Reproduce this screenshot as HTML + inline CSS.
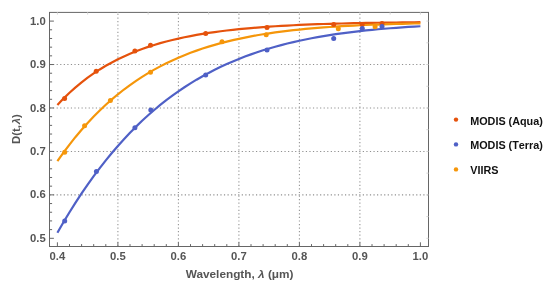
<!DOCTYPE html>
<html><head><meta charset="utf-8"><title>D(t,λ) vs Wavelength</title>
<style>html,body{margin:0;padding:0;background:#fff}svg{display:block}text{font-family:"Liberation Sans",Arial,Helvetica,sans-serif;font-weight:bold}</style></head><body>
<svg width="550" height="286" viewBox="0 0 550 286">
<rect width="550" height="286" fill="#fff"/>
<g stroke="#909090" stroke-width="1.05" stroke-dasharray="1.2 2.36" fill="none">
<path d="M117.90,246.50 V12.40"/>
<path d="M178.40,246.50 V12.40"/>
<path d="M238.90,246.50 V12.40"/>
<path d="M299.40,246.50 V12.40"/>
<path d="M359.90,246.50 V12.40"/>
<path d="M49.50,194.86 H428.50"/>
<path d="M49.50,151.42 H428.50"/>
<path d="M49.50,107.98 H428.50"/>
<path d="M49.50,64.54 H428.50"/>
</g>
<g fill="none" stroke-width="2.2" stroke-linecap="butt" stroke-linejoin="round">
<path stroke="#E5520C" d="M57.40,104.93 L63.45,98.59 L69.50,92.73 L75.55,87.32 L81.60,82.31 L87.65,77.68 L93.70,73.41 L99.75,69.45 L105.80,65.80 L111.85,62.42 L117.90,59.30 L123.95,56.41 L130.00,53.75 L136.05,51.28 L142.10,49.01 L148.15,46.90 L154.20,44.96 L160.25,43.17 L166.30,41.51 L172.35,39.98 L178.40,38.56 L184.45,37.25 L190.50,36.05 L196.55,34.93 L202.60,33.90 L208.65,32.95 L214.70,32.07 L220.75,31.26 L226.80,30.51 L232.85,29.82 L238.90,29.18 L244.95,28.59 L251.00,28.05 L257.05,27.55 L263.10,27.08 L269.15,26.65 L275.20,26.26 L281.25,25.89 L287.30,25.56 L293.35,25.25 L299.40,24.96 L305.45,24.69 L311.50,24.45 L317.55,24.22 L323.60,24.02 L329.65,23.82 L335.70,23.65 L341.75,23.48 L347.80,23.33 L353.85,23.19 L359.90,23.07 L365.95,22.95 L372.00,22.84 L378.05,22.74 L384.10,22.65 L390.15,22.56 L396.20,22.48 L402.25,22.41 L408.30,22.34 L414.35,22.28 L420.40,22.22"/>
<path stroke="#4F60C6" d="M57.40,232.73 L63.45,222.28 L69.50,212.26 L75.55,202.64 L81.60,193.43 L87.65,184.61 L93.70,176.16 L99.75,168.08 L105.80,160.35 L111.85,152.97 L117.90,145.92 L123.95,139.19 L130.00,132.77 L136.05,126.65 L142.10,120.81 L148.15,115.26 L154.20,109.98 L160.25,104.95 L166.30,100.17 L172.35,95.64 L178.40,91.33 L184.45,87.24 L190.50,83.36 L196.55,79.68 L202.60,76.20 L208.65,72.90 L214.70,69.78 L220.75,66.83 L226.80,64.04 L232.85,61.41 L238.90,58.92 L244.95,56.58 L251.00,54.36 L257.05,52.28 L263.10,50.31 L269.15,48.46 L275.20,46.72 L281.25,45.08 L287.30,43.55 L293.35,42.10 L299.40,40.74 L305.45,39.47 L311.50,38.28 L317.55,37.16 L323.60,36.11 L329.65,35.13 L335.70,34.21 L341.75,33.35 L347.80,32.55 L353.85,31.80 L359.90,31.10 L365.95,30.45 L372.00,29.84 L378.05,29.27 L384.10,28.74 L390.15,28.25 L396.20,27.79 L402.25,27.36 L408.30,26.96 L414.35,26.60 L420.40,26.25"/>
<path stroke="#F5960A" d="M57.40,161.15 L63.45,152.62 L69.50,144.56 L75.55,136.93 L81.60,129.72 L87.65,122.92 L93.70,116.50 L99.75,110.44 L105.80,104.73 L111.85,99.35 L117.90,94.28 L123.95,89.51 L130.00,85.03 L136.05,80.81 L142.10,76.85 L148.15,73.13 L154.20,69.64 L160.25,66.36 L166.30,63.29 L172.35,60.42 L178.40,57.72 L184.45,55.20 L190.50,52.84 L196.55,50.64 L202.60,48.58 L208.65,46.65 L214.70,44.86 L220.75,43.18 L226.80,41.62 L232.85,40.17 L238.90,38.81 L244.95,37.55 L251.00,36.38 L257.05,35.29 L263.10,34.28 L269.15,33.34 L275.20,32.46 L281.25,31.65 L287.30,30.90 L293.35,30.20 L299.40,29.56 L305.45,28.96 L311.50,28.41 L317.55,27.90 L323.60,27.43 L329.65,26.99 L335.70,26.59 L341.75,26.22 L347.80,25.88 L353.85,25.56 L359.90,25.27 L365.95,25.00 L372.00,24.76 L378.05,24.53 L384.10,24.32 L390.15,24.13 L396.20,23.96 L402.25,23.79 L408.30,23.65 L414.35,23.51 L420.40,23.39"/>
</g>
<g fill="#E5520C"><circle cx="64.6" cy="98.4" r="2.5"/><circle cx="96.2" cy="71.2" r="2.5"/><circle cx="134.9" cy="51.1" r="2.5"/><circle cx="150.5" cy="45.3" r="2.5"/><circle cx="205.7" cy="33.5" r="2.5"/><circle cx="267.0" cy="27.6" r="2.5"/><circle cx="333.7" cy="24.4" r="2.5"/><circle cx="362.2" cy="24.4" r="2.5"/><circle cx="382.0" cy="23.4" r="2.5"/></g>
<g fill="#4F60C6"><circle cx="64.7" cy="220.9" r="2.5"/><circle cx="96.4" cy="171.4" r="2.5"/><circle cx="134.9" cy="127.7" r="2.5"/><circle cx="150.8" cy="110.1" r="2.5"/><circle cx="205.7" cy="74.9" r="2.5"/><circle cx="267.0" cy="49.9" r="2.5"/><circle cx="333.7" cy="38.4" r="2.5"/><circle cx="362.3" cy="28.4" r="2.5"/><circle cx="382.0" cy="26.4" r="2.5"/></g>
<g fill="#F5960A"><circle cx="64.7" cy="152.2" r="2.5"/><circle cx="84.6" cy="125.7" r="2.5"/><circle cx="110.4" cy="100.4" r="2.5"/><circle cx="150.5" cy="72.2" r="2.5"/><circle cx="222.0" cy="41.7" r="2.5"/><circle cx="266.2" cy="34.8" r="2.5"/><circle cx="338.3" cy="28.7" r="2.5"/><circle cx="375.1" cy="26.7" r="2.5"/></g>
<rect x="49.50" y="12.40" width="379.00" height="234.10" fill="none" stroke="#666" stroke-width="1"/>
<path d="M57.40,246.50 v-4.2 M69.50,246.50 v-2.4 M81.60,246.50 v-2.4 M93.70,246.50 v-2.4 M105.80,246.50 v-2.4 M117.90,246.50 v-4.2 M130.00,246.50 v-2.4 M142.10,246.50 v-2.4 M154.20,246.50 v-2.4 M166.30,246.50 v-2.4 M178.40,246.50 v-4.2 M190.50,246.50 v-2.4 M202.60,246.50 v-2.4 M214.70,246.50 v-2.4 M226.80,246.50 v-2.4 M238.90,246.50 v-4.2 M251.00,246.50 v-2.4 M263.10,246.50 v-2.4 M275.20,246.50 v-2.4 M287.30,246.50 v-2.4 M299.40,246.50 v-4.2 M311.50,246.50 v-2.4 M323.60,246.50 v-2.4 M335.70,246.50 v-2.4 M347.80,246.50 v-2.4 M359.90,246.50 v-4.2 M372.00,246.50 v-2.4 M384.10,246.50 v-2.4 M396.20,246.50 v-2.4 M408.30,246.50 v-2.4 M420.40,246.50 v-4.2 M49.50,238.30 h4.4 M49.50,229.61 h2.6 M49.50,220.92 h2.6 M49.50,212.24 h2.6 M49.50,203.55 h2.6 M49.50,194.86 h4.4 M49.50,186.17 h2.6 M49.50,177.48 h2.6 M49.50,168.80 h2.6 M49.50,160.11 h2.6 M49.50,151.42 h4.4 M49.50,142.73 h2.6 M49.50,134.04 h2.6 M49.50,125.36 h2.6 M49.50,116.67 h2.6 M49.50,107.98 h4.4 M49.50,99.29 h2.6 M49.50,90.60 h2.6 M49.50,81.92 h2.6 M49.50,73.23 h2.6 M49.50,64.54 h4.4 M49.50,55.85 h2.6 M49.50,47.16 h2.6 M49.50,38.48 h2.6 M49.50,29.79 h2.6 M49.50,21.10 h4.4" stroke="#666" stroke-width="1" fill="none"/>
<path d="M57.40,12.40 v2.2 M87.65,12.40 v2.2 M117.90,12.40 v2.2 M148.15,12.40 v2.2 M178.40,12.40 v2.2 M208.65,12.40 v2.2 M238.90,12.40 v2.2 M269.15,12.40 v2.2 M299.40,12.40 v2.2 M329.65,12.40 v2.2 M359.90,12.40 v2.2 M390.15,12.40 v2.2 M420.40,12.40 v2.2 M428.50,238.30 h-2.2 M428.50,216.58 h-2.2 M428.50,194.86 h-2.2 M428.50,173.14 h-2.2 M428.50,151.42 h-2.2 M428.50,129.70 h-2.2 M428.50,107.98 h-2.2 M428.50,86.26 h-2.2 M428.50,64.54 h-2.2 M428.50,42.82 h-2.2 M428.50,21.10 h-2.2" stroke="#d8d8d8" stroke-width="1" fill="none"/>
<g fill="#555555" font-size="11.3px">
<text x="57.40" y="259.5" text-anchor="middle">0.4</text>
<text x="117.90" y="259.5" text-anchor="middle">0.5</text>
<text x="178.40" y="259.5" text-anchor="middle">0.6</text>
<text x="238.90" y="259.5" text-anchor="middle">0.7</text>
<text x="299.40" y="259.5" text-anchor="middle">0.8</text>
<text x="359.90" y="259.5" text-anchor="middle">0.9</text>
<text x="420.40" y="259.5" text-anchor="middle">1.0</text>
<text x="45.8" y="241.90" text-anchor="end">0.5</text>
<text x="45.8" y="198.46" text-anchor="end">0.6</text>
<text x="45.8" y="155.02" text-anchor="end">0.7</text>
<text x="45.8" y="111.58" text-anchor="end">0.8</text>
<text x="45.8" y="68.14" text-anchor="end">0.9</text>
<text x="45.8" y="24.70" text-anchor="end">1.0</text>
<text x="239.6" y="278.3" text-anchor="middle" font-size="11.8px">Wavelength, <tspan font-style="italic">λ</tspan> (μm)</text>
<text transform="translate(19.6,129.1) rotate(-90)" text-anchor="middle" font-size="11.4px">D(t,<tspan dx="0.8" font-style="italic">λ</tspan>)</text>
</g>
<g fill="#111" font-size="10.8px" style="font-kerning:none">
<circle cx="456" cy="119.6" r="2.2" fill="#E5520C"/>
<text x="470.2" y="124.5">MODIS (Aqua)</text>
<circle cx="456" cy="144.4" r="2.2" fill="#4F60C6"/>
<text x="470.2" y="149.3">MODIS (Terra)</text>
<circle cx="456" cy="169.4" r="2.2" fill="#F5960A"/>
<text x="470.2" y="174.0">VIIRS</text>
</g>
</svg></body></html>
